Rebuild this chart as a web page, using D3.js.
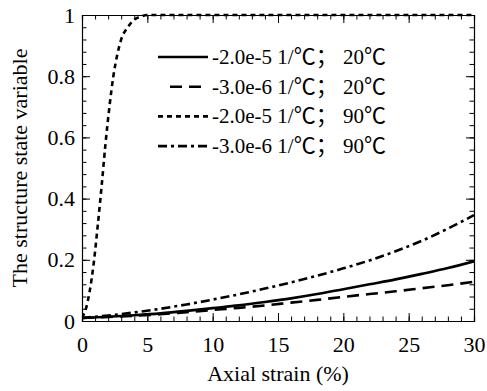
<!DOCTYPE html>
<html>
<head>
<meta charset="utf-8">
<script src="https://cdn.jsdelivr.net/npm/d3@7"></script>
<style>
  body { margin: 0; background: #fff; }
</style>
</head>
<body>
<div id="chart"></div>
<script>
// values
const strainA = [0, 2, 4, 6, 8, 10, 12, 14, 16, 18, 20, 22, 24, 26, 28, 30]
const s20hi = [0.01, 0.014, 0.019, 0.025, 0.033, 0.042, 0.051, 0.062, 0.074, 0.088, 0.104, 0.12, 0.136, 0.154, 0.173, 0.195]
const s20lo = [0.01, 0.013, 0.017, 0.022, 0.029, 0.036, 0.043, 0.051, 0.06, 0.069, 0.079, 0.088, 0.097, 0.107, 0.117, 0.128]
const s90lo = [0.01, 0.018, 0.028, 0.04, 0.054, 0.07, 0.087, 0.106, 0.126, 0.148, 0.172, 0.198, 0.228, 0.262, 0.302, 0.346]

const strainB = [0, 0.3, 0.6, 0.9, 1.2, 1.5, 1.8, 2.1, 2.4, 2.7, 3.0, 3.5, 4.0, 4.5, 5, 6, 10, 20, 30]
const s90hi = [0.01, 0.04, 0.1, 0.19, 0.31, 0.44, 0.58, 0.7, 0.8, 0.87, 0.92, 0.96, 0.985, 0.995, 1, 1, 1, 1, 1]

// legend: [rate, temperature]
const legendRates = ['-2.0e-5', '-3.0e-6', '-2.0e-5', '-3.0e-6']
const legendTemps = ['20', '20', '90', '90']
const xTicks = [0, 5, 10, 15, 20, 25, 30]
const yTicks = [0, 0.2, 0.4, 0.6, 0.8, 1]

const SERIF = '"Liberation Serif", "Times New Roman", Times, serif'
const CJK = '"Noto Sans CJK SC", "Noto Sans CJK JP", sans-serif'

const W = 487, H = 391
const m = {left: 82, right: 13, top: 15, bottom: 70}

const svg = d3.select('#chart').append('svg')
  .attr('width', W)
  .attr('height', H)
  .attr('font-family', SERIF)

const x = d3.scaleLinear().domain([0, 30]).range([m.left, W - m.right])
const y = d3.scaleLinear().domain([0, 1]).range([H - m.bottom, m.top])

const series = [
  {xs: strainA, ys: s20hi, dash: null},
  {xs: strainA, ys: s20lo, dash: '12,7'},
  {xs: strainB, ys: s90hi, dash: '5,4'},
  {xs: strainA, ys: s90lo, dash: '9,4,3,4'}
]

const line = d3.line()
  .x(d => x(d[0]))
  .y(d => y(d[1]))
  .curve(d3.curveMonotoneX)

svg.append('clipPath').attr('id', 'clip')
  .append('rect')
  .attr('x', m.left).attr('y', m.top - 2)
  .attr('width', W - m.left - m.right).attr('height', H - m.top - m.bottom + 2)

svg.append('g').attr('clip-path', 'url(#clip)')
  .selectAll('path')
  .data(series)
  .join('path')
  .attr('d', s => line(s.xs.map((v, i) => [v, s.ys[i]])))
  .attr('fill', 'none')
  .attr('stroke', '#000')
  .attr('stroke-width', 2.6)
  .attr('stroke-dasharray', s => s.dash)

// axes with inward ticks on all four sides
const minorX = d3.range(0, 31, 1)
const minorY = d3.range(0, 1.0001, 0.04)

function frame(mk, scale, tr, minor, major, labels, pad) {
  const g = svg.append('g').attr('transform', tr)
  g.call(mk(scale).tickValues(minor).tickSize(-4.5).tickFormat(''))
  const gm = g.append('g')
  gm.call(mk(scale).tickValues(major).tickSize(-8).tickPadding(pad || 3)
    .tickFormat(labels ? d3.format('~g') : ''))
  gm.select('.domain').remove()
  g.selectAll('line').attr('stroke', '#000').attr('stroke-width', 1)
  g.select('.domain').attr('stroke', '#000').attr('stroke-width', 1.2)
  g.selectAll('text')
    .attr('font-family', SERIF)
    .attr('font-size', 22)
    .attr('fill', '#000')
  return g
}

frame(d3.axisBottom, x, `translate(0,${H - m.bottom})`, minorX, xTicks, true, 15)
frame(d3.axisTop, x, `translate(0,${m.top})`, minorX, xTicks, false)
frame(d3.axisLeft, y, `translate(${m.left},0)`, minorY, yTicks, true, 7)
frame(d3.axisRight, y, `translate(${W - m.right},0)`, minorY, yTicks, false)

svg.append('text')
  .attr('x', (m.left + W - m.right) / 2)
  .attr('y', 381)
  .attr('text-anchor', 'middle')
  .attr('font-family', SERIF)
  .attr('font-size', 22)
  .text('Axial strain (%)')

svg.append('text')
  .attr('transform', `translate(27,${(m.top + H - m.bottom) / 2}) rotate(-90)`)
  .attr('text-anchor', 'middle')
  .attr('font-family', SERIF)
  .attr('font-size', 22)
  .text('The structure state variable')

// legend
const leg = svg.append('g')
const rowY = i => 57 + i * 29.7
leg.selectAll('line')
  .data(series)
  .join('line')
  .attr('x1', (s, i) => i === 1 ? 170 : 158)
  .attr('x2', 208)
  .attr('y1', (s, i) => rowY(i))
  .attr('y2', (s, i) => rowY(i))
  .attr('stroke', '#000')
  .attr('stroke-width', 2.6)
  .attr('stroke-dasharray', s => s.dash)

const lt = leg.selectAll('text')
  .data(legendRates)
  .join('text')
  .attr('x', 212)
  .attr('y', (d, i) => rowY(i) + 7)
  .attr('font-family', SERIF)
  .attr('font-size', 21)
lt.append('tspan').text(d => d + ' 1/')
lt.append('tspan').attr('font-family', CJK).attr('font-size', 22).text('\u2103\uFF1B')
lt.append('tspan').text((d, i) => '\u00A0' + legendTemps[i])
lt.append('tspan').attr('font-family', CJK).attr('font-size', 22).text('\u2103')
</script>
</body>
</html>
